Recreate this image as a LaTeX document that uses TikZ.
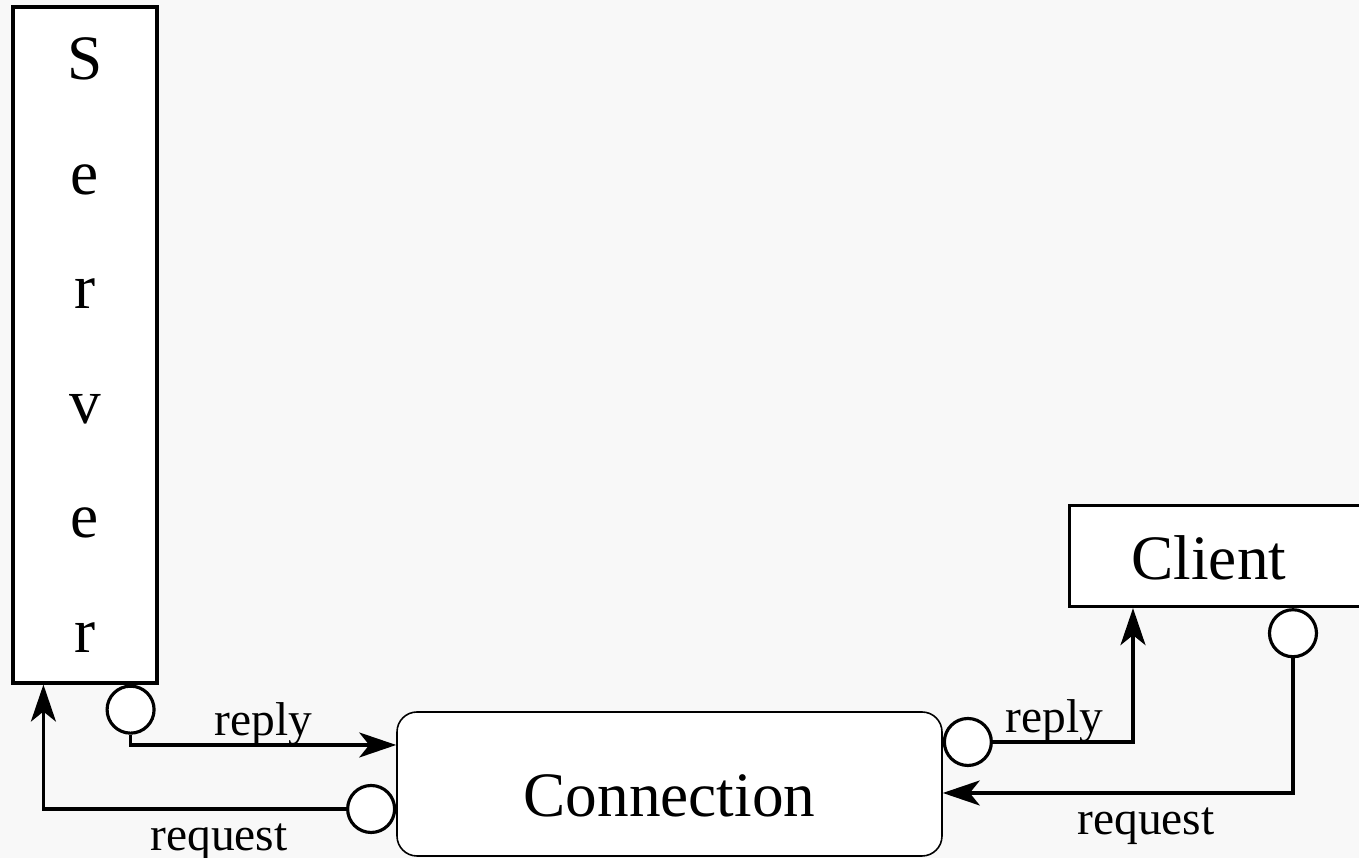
\documentclass[tikz,border=0pt]{standalone}
\usepackage{fontspec}
\setmainfont{Liberation Serif}
\usetikzlibrary{arrows.meta}
\definecolor{bgcol}{RGB}{248,248,248}
\tikzset{
	box/.style = {draw, fill = white, line width = 0.9pt, inner sep = 0pt},
	port/.style = {draw, fill = white, circle, line width = 0.9pt, minimum size = 0.47cm, inner sep = 0pt},
	wire/.style = {line width = 0.9pt, -{Stealth[length = 0.37cm, width = 0.25cm, inset = 0.1cm]}},
	lbl/.style = {font = \fontsize{13.5}{16}\selectfont, inner sep = 0.08cm, text depth = 0pt},
	big/.style = {font = \fontsize{18}{32.6}\selectfont}
}

\begin{document}
\begin{tikzpicture}
	\useasboundingbox (0,0) rectangle (13.59,8.58);
	\fill [bgcol] (0,0) rectangle (13.59,8.58);
	\clip (0,0) rectangle (13.59,8.58);
	\node (server) [box, big, align = center, minimum width = 1.44cm, minimum height = 6.76cm] at (0.85,5.13) {S\\e\\r\\v\\e\\r};
	\node (client) [box, big, anchor = north west, align = left, minimum height = 1.01cm, text width = 1.96cm,
		inner xsep = 0.62cm, text height = 0.47cm, text depth = 0pt] at (10.68,3.54) {Client};
	\node (conn) [box, big, rounded corners = 0.2cm, line width = 0.45pt, minimum width = 5.45cm, minimum height = 1.44cm,
		text height = 0.66cm, text depth = 0pt] at (6.695,0.74) {Connection};
	\node (sport) [port, anchor = north] at ([xshift = -0.28cm]server.south east) {};
	\node (creq) [port, anchor = east] at ([yshift = -0.25cm]conn.west) {};
	\node (crep) [port, anchor = west] at ([yshift = 0.42cm]conn.east) {};
	\node (cport) [port, anchor = north] at ([xshift = 2.25cm]client.south west) {};
	\draw [wire] (sport.south) |- ([yshift = 0.39cm]conn.west) node[lbl, pos = 0.75, above] {reply};
	\draw [wire] (creq.west) -| ([xshift = 0.32cm]server.south west) node[lbl, pos = 0.21, below = 0.05cm] {request};
	\draw [wire] (crep.east) -| ([xshift = 0.65cm]client.south west) node[lbl, pos = 0.22, above] {reply};
	\draw [wire] (cport.south) |- ([yshift = -0.09cm]conn.east) node[lbl, pos = 0.71, below = 0.05cm] {request};
\end{tikzpicture}
\end{document}
